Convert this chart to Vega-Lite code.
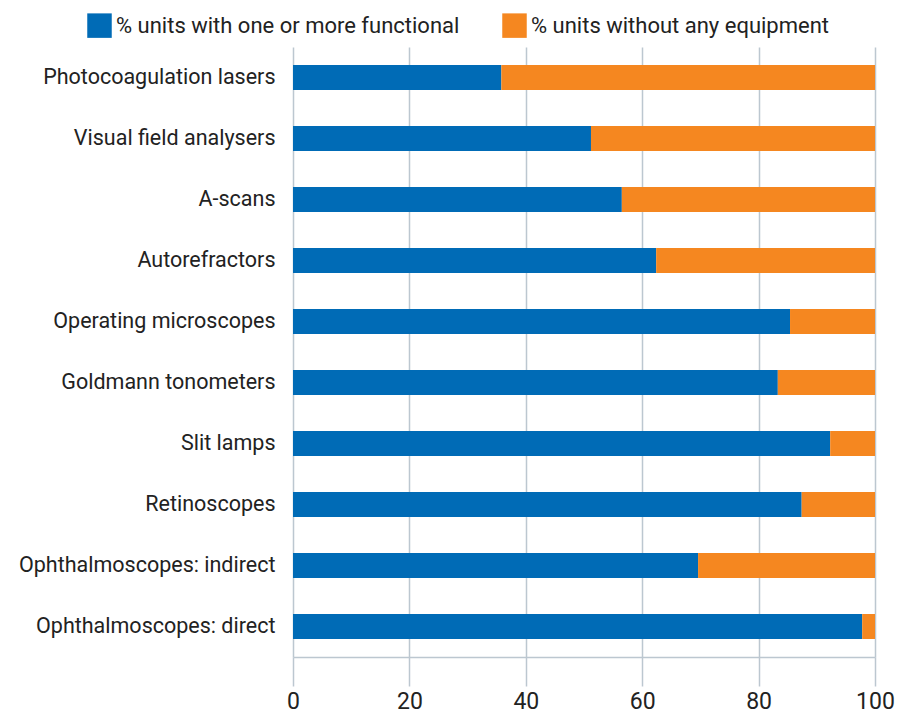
{
  "$schema": "https://vega.github.io/schema/vega-lite/v6.json",
  "width": 582,
  "height": 610,
  "autosize": "none",
  "padding": {"left": 293, "top": 47, "right": 37, "bottom": 58},
  "background": "white",
  "config": {"view": {"stroke": null}, "font": "Roboto"},
  "data": {"values": [
    {"equipment": "Photocoagulation lasers", "series": "% units with one or more functional", "ord": 1, "value": 35.8},
    {"equipment": "Photocoagulation lasers", "series": "% units without any equipment", "ord": 2, "value": 64.2},
    {"equipment": "Visual field analysers", "series": "% units with one or more functional", "ord": 1, "value": 51.2},
    {"equipment": "Visual field analysers", "series": "% units without any equipment", "ord": 2, "value": 48.8},
    {"equipment": "A-scans", "series": "% units with one or more functional", "ord": 1, "value": 56.5},
    {"equipment": "A-scans", "series": "% units without any equipment", "ord": 2, "value": 43.5},
    {"equipment": "Autorefractors", "series": "% units with one or more functional", "ord": 1, "value": 62.4},
    {"equipment": "Autorefractors", "series": "% units without any equipment", "ord": 2, "value": 37.6},
    {"equipment": "Operating microscopes", "series": "% units with one or more functional", "ord": 1, "value": 85.4},
    {"equipment": "Operating microscopes", "series": "% units without any equipment", "ord": 2, "value": 14.6},
    {"equipment": "Goldmann tonometers", "series": "% units with one or more functional", "ord": 1, "value": 83.3},
    {"equipment": "Goldmann tonometers", "series": "% units without any equipment", "ord": 2, "value": 16.7},
    {"equipment": "Slit lamps", "series": "% units with one or more functional", "ord": 1, "value": 92.3},
    {"equipment": "Slit lamps", "series": "% units without any equipment", "ord": 2, "value": 7.7},
    {"equipment": "Retinoscopes", "series": "% units with one or more functional", "ord": 1, "value": 87.4},
    {"equipment": "Retinoscopes", "series": "% units without any equipment", "ord": 2, "value": 12.6},
    {"equipment": "Ophthalmoscopes: indirect", "series": "% units with one or more functional", "ord": 1, "value": 69.6},
    {"equipment": "Ophthalmoscopes: indirect", "series": "% units without any equipment", "ord": 2, "value": 30.4},
    {"equipment": "Ophthalmoscopes: direct", "series": "% units with one or more functional", "ord": 1, "value": 97.8},
    {"equipment": "Ophthalmoscopes: direct", "series": "% units without any equipment", "ord": 2, "value": 2.2}
  ]},
  "mark": {"type": "bar"},
  "encoding": {
    "y": {
      "field": "equipment", "type": "nominal",
      "sort": ["Photocoagulation lasers", "Visual field analysers", "A-scans", "Autorefractors", "Operating microscopes", "Goldmann tonometers", "Slit lamps", "Retinoscopes", "Ophthalmoscopes: indirect", "Ophthalmoscopes: direct"],
      "scale": {"paddingInner": 0.59, "paddingOuter": 0.295},
      "axis": {"title": null, "domain": false, "ticks": false, "labelPadding": 18, "labelFontSize": 21.5, "labelLimit": 320, "labelColor": "#222222", "labelFont": "Roboto"}
    },
    "x": {
      "field": "value", "type": "quantitative", "stack": "zero",
      "scale": {"domain": [0, 100], "nice": false},
      "axis": {"title": null, "values": [0, 20, 40, 60, 80, 100], "grid": true, "gridColor": "#BCC7D0", "gridWidth": 1.5, "domain": true, "domainColor": "#BCC7D0", "domainWidth": 1.5, "tickColor": "#BCC7D0", "tickWidth": 1.5, "tickSize": 29, "labelPadding": 4, "labelFlush": false, "labelFontSize": 23, "labelColor": "#222222", "labelFont": "Roboto"}
    },
    "color": {
      "field": "series", "type": "nominal",
      "scale": {"domain": ["% units with one or more functional", "% units without any equipment"], "range": ["#006BB6", "#F58720"]},
      "legend": {"title": null, "orient": "none", "legendX": -206, "legendY": -34, "direction": "horizontal", "symbolType": "square", "symbolSize": 600, "symbolStrokeWidth": 0, "symbolOpacity": 1, "labelFontSize": 22, "labelLimit": 420, "labelColor": "#222222", "labelFont": "Roboto", "columnPadding": 42, "labelOffset": 4}
    },
    "order": {"field": "ord", "type": "quantitative"}
  }
}
